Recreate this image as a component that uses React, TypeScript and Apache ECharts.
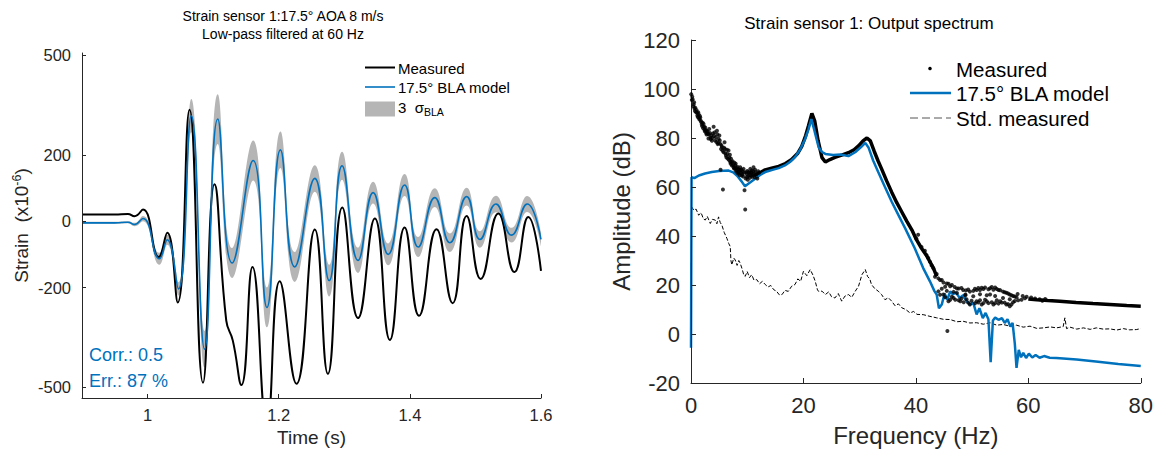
import React, { useEffect, useRef } from 'react';
import * as echarts from 'echarts';

const FONT = '"Liberation Sans", Arial, Helvetica, sans-serif';
const AX = '#262626';
const BLUE = '#0072BD';
const GRAY = '#b5b5b5';

// ---------- Left chart: time response ----------
const timeTicks = [1, 1.2, 1.4, 1.6];
const strainTicks = [-500, -200, 0, 200, 500];

const measuredTime = [0.9, 0.95, 0.97, 0.98, 0.993, 1.017, 1.03, 1.046, 1.064, 1.0845, 1.102, 1.12, 1.13, 1.143, 1.16, 1.182, 1.2015, 1.227, 1.255, 1.275, 1.297, 1.321, 1.3466, 1.3695, 1.392, 1.414, 1.4407, 1.4652, 1.4866, 1.508, 1.535, 1.5595, 1.5806, 1.6];
const measuredStrain = [20, 20, 22, 15, 35, -108, -35, -245, 336, -487, 111, -300, -360, -494, -138, -620, -181, -490, -25, -460, 41, -292, 8, -358, -19, -285, -24, -247, 16, -174, 23, -153, 13, -150];

const blaTime = [0.9, 0.95, 0.97, 0.98, 0.993, 1.018, 1.03, 1.047, 1.0667, 1.087, 1.107, 1.129, 1.161, 1.182, 1.2026, 1.2244, 1.255, 1.277, 1.2966, 1.321, 1.344, 1.367, 1.392, 1.4127, 1.438, 1.461, 1.4866, 1.5069, 1.5313, 1.555, 1.579, 1.6];
const blaStrain = [-5, -5, -3, -10, 8, -113, -56, -204, 318, -386, 308, -126, 183, -260, 215, -138, 129, -179, 167, -118, 86, -100, 109, -78, 71, -65, 74, -55, 52, -42, 52, -55];
const bla3Sigma = [3, 3, 3, 5, 8, 18, 15, 20, 50, 55, 75, 45, 60, 60, 55, 45, 40, 48, 42, 38, 33, 33, 33, 30, 28, 28, 27, 25, 25, 22, 24, 20];

// ---------- Right chart: output spectrum ----------
const measuredDotsLow: [number, number][] = [
  [0.05, 97.9], [0.15, 95.5], [0.22, 96.8], [0.29, 95.8], [0.4, 93.0], [0.47, 93.8], [0.55, 94.6], [0.62, 92.0],
  [0.7, 91.0], [0.76, 92.4], [0.9, 90.5], [0.98, 91.4], [1.06, 90.4], [1.13, 89.2], [1.2, 88.6], [1.28, 90.5],
  [1.36, 89.7], [1.43, 88.1], [1.5, 87.5], [1.58, 89.0], [1.65, 88.4], [1.74, 87.0], [1.83, 86.4], [1.92, 85.5],
  [2.0, 84.8], [2.08, 86.2], [2.17, 84.0], [2.24, 85.7], [2.33, 84.6], [2.4, 83.4], [2.47, 82.7], [2.54, 84.3],
  [2.62, 83.2], [2.7, 82.0], [2.77, 81.4], [2.83, 83.0], [2.92, 82.5], [3.01, 81.6], [3.1, 79.8], [3.17, 81.5],
  [3.25, 83.7], [3.35, 82.0], [3.45, 80.2], [3.52, 79.5], [3.6, 81.0], [3.72, 78.9], [3.8, 80.0], [3.9, 81.8],
  [4.02, 84.6], [4.1, 80.8], [4.2, 82.3], [4.3, 79.0], [4.43, 80.3], [4.52, 78.4], [4.61, 83.0], [4.68, 81.5],
  [4.75, 77.5], [4.84, 78.0], [4.91, 79.6], [5.05, 81.0], [5.12, 79.0], [5.2, 77.6], [5.26, 67.0], [5.35, 75.5],
  [5.42, 77.0], [5.5, 76.3], [5.62, 74.8], [5.68, 59.0], [5.8, 74.2], [5.88, 76.0], [5.97, 78.3], [6.05, 75.5],
  [6.1, 73.8], [6.21, 72.9], [6.3, 72.0], [6.4, 75.2], [6.48, 73.5], [6.56, 71.5], [6.68, 74.9], [6.76, 71.0],
  [6.85, 72.0], [6.92, 73.2], [6.98, 70.2], [7.05, 69.5], [7.12, 71.5], [7.2, 70.2], [7.27, 68.8], [7.4, 70.5],
  [7.48, 69.0], [7.57, 68.1], [7.65, 67.5], [7.72, 69.9], [7.8, 67.6], [7.87, 68.8], [7.95, 69.5], [8.0, 66.5],
  [8.08, 67.8], [8.16, 66.7], [8.23, 65.8], [8.3, 68.2], [8.38, 67.3], [8.46, 65.4], [8.53, 66.0], [8.6, 67.0],
  [8.68, 64.8], [8.75, 68.1], [8.83, 66.8], [8.9, 65.8], [8.98, 67.2], [9.05, 64.7], [9.12, 65.2], [9.2, 66.3],
  [9.28, 64.3], [9.35, 67.4], [9.44, 66.0], [9.52, 58.7], [9.64, 50.8], [9.72, 63.5], [9.8, 66.0], [9.87, 65.3],
  [9.94, 64.0], [10.02, 66.5], [10.1, 63.0], [10.17, 64.5], [10.24, 66.1], [10.32, 65.8], [10.4, 64.9], [10.47, 63.8],
  [10.54, 67.4], [10.62, 65.9], [10.7, 64.7], [10.76, 66.0], [10.83, 66.7], [10.9, 64.2], [11.0, 65.0], [11.05, 66.5],
  [11.12, 68.1], [11.2, 65.4], [11.3, 64.0], [11.4, 67.0], [11.5, 66.0], [11.65, 65.2], [11.8, 63.5], [11.95, 66.4], [12.1, 65.8]
];
const measuredDotsHigh: [number, number][] = [
  [40.1, 38.9], [40.4, 40.5], [41.0, 35.5], [41.6, 34.0], [41.9, 32.2], [42.2, 31.0], [42.5, 29.5], [42.8, 28.0],
  [43.1, 26.8], [43.4, 23.4], [43.7, 24.5], [44.0, 22.7], [44.3, 22.0], [44.6, 22.0], [44.9, 21.0], [45.2, 19.3],
  [45.5, 20.6], [45.8, 20.5], [46.1, 19.5], [46.4, 20.0], [46.9, 19.2], [47.3, 18.6], [47.6, 18.6], [48.1, 18.8],
  [48.4, 18.0], [48.9, 17.8], [49.3, 18.2], [49.6, 17.3], [50.2, 17.6], [50.5, 18.5], [50.8, 18.0], [51.1, 18.8],
  [51.4, 18.0], [51.7, 18.9], [52.0, 18.4], [52.3, 19.0], [52.9, 18.3], [53.2, 18.7], [53.5, 19.2], [53.8, 18.1],
  [54.1, 19.0], [54.4, 18.4], [54.7, 18.0], [55.0, 17.9], [55.5, 17.3], [55.8, 17.0], [56.1, 16.8], [56.4, 16.5],
  [56.7, 16.1], [57.0, 15.8], [57.3, 15.5], [57.6, 15.3], [57.9, 15.0],
  [44.0, 17.4], [44.3, 16.0], [44.9, 16.1], [45.2, 15.0], [45.8, 13.4], [46.1, 14.0], [46.4, 15.2], [46.7, 14.7],
  [47.0, 14.0], [47.6, 13.8], [47.9, 13.4], [48.1, 14.5], [48.5, 13.0], [48.8, 16.1], [49.0, 14.2], [49.3, 12.8],
  [49.6, 12.0], [49.9, 13.6], [50.5, 12.5], [50.8, 13.4], [51.1, 12.9], [51.4, 13.8], [51.7, 12.0], [52.0, 12.6],
  [52.3, 14.0], [52.6, 13.4], [52.9, 12.6], [53.5, 13.0], [53.8, 12.0], [54.1, 12.6], [54.4, 13.8], [54.7, 12.4],
  [55.0, 13.4], [55.3, 12.8], [55.8, 12.8], [56.1, 12.0], [56.4, 12.2], [56.7, 11.3], [57.0, 12.0], [57.3, 13.0],
  [57.6, 13.5], [58.2, 13.8], [58.8, 14.0], [59.4, 14.6], [58.1, 16.3], [59.0, 15.5], [59.7, 15.2], [60.5, 14.9],
  [61.2, 14.5], [62.0, 14.2], [62.5, 13.6], [63.0, 14.3],
  [44.6, 18.5], [45.5, 17.6], [46.7, 17.2], [47.3, 16.7], [48.8, 15.8], [50.2, 15.4], [51.4, 16.2], [52.6, 15.8],
  [53.2, 16.1], [54.1, 15.5], [55.5, 14.7], [56.7, 14.2], [45.6, 1.2]
];
const measuredLineA: [number, number][] = [
  [11.2, 64.5], [12.0, 65.5], [13.2, 67.0], [14.5, 67.8], [15.6, 68.4], [16.8, 69.6], [17.9, 71.2], [19.0, 73.8],
  [19.7, 76.6], [20.4, 81.0], [20.9, 85.0], [21.5, 90.0], [22.0, 87.0], [22.6, 79.0], [23.3, 72.0], [23.9, 70.2],
  [24.7, 71.2], [25.6, 72.1], [26.8, 73.0], [28.0, 74.0], [29.0, 75.2], [29.8, 76.8], [30.6, 78.8], [31.3, 80.0],
  [31.9, 78.8], [32.6, 74.5], [33.3, 70.5], [33.9, 67.4], [34.8, 62.5], [35.7, 57.9], [36.6, 53.6], [37.5, 49.8],
  [38.4, 46.0], [39.3, 42.4], [40.1, 38.5], [41.0, 35.0], [41.9, 32.0], [42.5, 29.5], [43.1, 27.0], [43.7, 23.5]
];
const measuredLineB: [number, number][] = [
  [60.0, 14.3], [61.5, 14.0], [63.5, 13.7], [65.6, 13.4], [68.5, 12.9], [71.5, 12.4],
  [74.5, 12.0], [77.5, 11.6], [80.0, 11.3]
];
const blaModel: [number, number][] = [
  [0, -5.6], [0.1, 64.0], [0.6, 63.6], [1.4, 64.7], [2.5, 65.5], [3.7, 66.1], [5.0, 66.5], [6.7, 66.7], [7.5, 66.0],
  [8.2, 64.6], [9.0, 62.3], [9.6, 60.3], [10.5, 61.8], [11.4, 63.4], [12.3, 64.9], [13.2, 66.1], [14.5, 67.0],
  [15.6, 67.7], [16.7, 68.8], [17.6, 70.2], [18.5, 72.2], [19.4, 75.2], [20.3, 79.6], [20.9, 83.5], [21.4, 87.7],
  [21.9, 83.5], [22.7, 76.2], [23.3, 74.3], [23.9, 73.5], [25.3, 73.1], [26.6, 73.3], [28.0, 72.6], [29.2, 74.2],
  [30.2, 76.2], [31.0, 78.0], [31.6, 76.0], [32.4, 70.8], [33.3, 66.1], [34.5, 60.0], [35.7, 54.0], [36.9, 48.5],
  [38.1, 43.1], [39.8, 35.0], [41.3, 26.9], [42.5, 21.5], [43.3, 17.5], [43.7, 16.1], [44.1, 10.5], [44.6, 12.0],
  [45.1, 16.5], [45.6, 14.0], [46.1, 17.4], [46.6, 16.2], [47.1, 17.0], [47.8, 14.7], [48.4, 15.8], [49.0, 13.5],
  [49.6, 12.0], [50.2, 12.8], [50.8, 8.0], [51.3, 10.5], [51.9, 6.5], [52.4, 8.6], [52.9, 6.0], [53.3, -11.5],
  [53.7, 5.5], [54.1, 6.7], [54.7, 5.8], [55.3, 6.5], [55.8, 4.5], [56.3, 6.0], [56.8, 3.0], [57.2, 4.5], [57.6, -4.0],
  [57.9, -13.8], [58.3, -6.5], [58.7, -9.5], [59.1, -7.7], [59.6, -9.8], [60.1, -8.0], [60.7, -9.6], [61.3, -8.6],
  [62.0, -9.7], [62.8, -9.0], [63.8, -9.7], [65.0, -9.8], [68.6, -10.4], [72.0, -11.2], [76.0, -12.2], [80.0, -13.1]
];
const stdMeasured: [number, number][] = [
  [0.1, 52.0], [0.5, 50.5], [0.9, 51.0], [1.36, 48.5], [1.8, 49.5], [2.2, 47.0], [2.54, 46.5], [2.9, 48.0], [3.43, 45.1],
  [3.8, 46.8], [4.31, 46.5], [4.6, 45.0], [4.9, 47.8], [5.2, 45.5], [5.5, 44.4], [5.9, 41.5], [6.39, 39.0], [6.7, 37.0],
  [6.98, 35.7], [7.1, 30.0], [7.27, 28.2], [7.6, 31.0], [7.87, 30.2], [8.2, 28.0], [8.5, 30.0], [8.75, 28.9], [9.1, 26.5],
  [9.4, 24.0], [9.64, 23.5], [10.0, 25.5], [10.4, 23.0], [10.8, 24.2], [11.2, 22.0], [11.7, 22.2], [12.2, 20.5],
  [12.7, 21.5], [13.2, 20.2], [13.7, 19.2], [14.2, 19.8], [14.7, 18.1], [15.2, 17.5], [15.7, 16.0], [16.2, 16.1],
  [16.7, 17.8], [17.3, 17.4], [17.9, 19.5], [18.5, 20.2], [19.0, 22.5], [19.5, 21.5], [20.0, 25.6], [20.6, 23.8],
  [21.2, 26.3], [21.7, 24.0], [22.1, 21.5], [22.5, 18.0], [22.7, 17.4], [23.3, 17.5], [23.9, 16.1], [24.5, 17.2],
  [25.0, 15.2], [25.6, 14.7], [26.2, 16.5], [26.8, 13.4], [27.4, 15.5], [28.0, 16.1], [28.6, 15.0], [29.2, 17.4],
  [29.8, 19.5], [30.4, 24.2], [31.0, 26.3], [31.4, 23.5], [31.8, 22.5], [32.1, 20.2], [32.7, 18.5], [33.3, 17.5],
  [33.9, 16.1], [34.5, 14.0], [35.1, 14.8], [35.7, 13.4], [36.3, 11.5], [36.9, 12.3], [37.5, 10.7], [38.2, 10.0],
  [38.95, 8.6], [39.6, 9.2], [40.2, 8.0], [41.3, 7.9], [42.5, 7.2], [43.7, 6.6], [44.9, 6.0], [46.1, 5.9], [47.3, 5.0],
  [48.4, 5.2], [49.6, 4.5], [50.8, 4.6], [52.0, 4.0], [53.2, 4.6], [54.4, 3.6], [55.5, 3.9], [56.7, 3.2], [57.9, 3.6],
  [59.1, 2.8], [60.3, 3.2], [61.5, 2.3], [62.7, 2.5], [63.9, 2.9], [65.0, 2.5], [66.2, 3.0], [66.5, 6.6], [66.8, 2.2],
  [67.4, 2.8], [68.6, 2.0], [69.8, 2.5], [71.0, 1.9], [72.1, 2.5], [73.3, 2.0], [74.5, 2.1], [75.7, 1.6], [76.9, 2.2],
  [78.0, 1.7], [79.2, 1.8], [80.0, 2.2]
];

const axisCommon = {
  axisLine: { show: true, onZero: false, lineStyle: { color: AX, width: 1 } },
  axisTick: { show: true, inside: true, length: 4, lineStyle: { color: AX } },
  splitLine: { show: false },
};

export default function App() {
  const ref = useRef<HTMLDivElement>(null);
  useEffect(() => {
    if (!ref.current) return;
    const chart = echarts.init(ref.current, undefined, { renderer: 'svg' });

    const measuredPts = measuredTime.map((t, i) => [t, measuredStrain[i]]);
    const blaPts = blaTime.map((t, i) => [t, blaStrain[i]]);
    const bandUpper = blaTime.map((t, i) => [t, blaStrain[i] + bla3Sigma[i]]);
    const bandLower = blaTime.map((t, i) => [t, blaStrain[i] - bla3Sigma[i]]);

    const option: any = {
      animation: false,
      backgroundColor: '#ffffff',
      textStyle: { fontFamily: FONT },
      grid: [
        { left: 82, top: 53, width: 459, height: 345, containLabel: false },
        { left: 691, top: 40, width: 450.5, height: 345, containLabel: false },
      ],
      xAxis: [
        {
          type: 'value', gridIndex: 0, min: 0.9, max: 1.6, z: 5,
          ...axisCommon,
          axisTick: { ...axisCommon.axisTick, customValues: timeTicks },
          axisLabel: { customValues: timeTicks, formatter: (v: number) => String(v), color: AX, fontSize: 16.5, margin: 8, fontFamily: FONT },
          name: 'Time (s)', nameLocation: 'middle', nameGap: 29,
          nameTextStyle: { color: AX, fontSize: 19, fontFamily: FONT },
        },
        {
          type: 'value', gridIndex: 1, min: 0, max: 80, interval: 20, z: 5,
          ...axisCommon,
          axisTick: { ...axisCommon.axisTick, length: 5 },
          axisLabel: { color: AX, fontSize: 22, margin: 11, fontFamily: FONT },
          name: 'Frequency (Hz)', nameLocation: 'middle', nameGap: 40,
          nameTextStyle: { color: AX, fontSize: 24, fontFamily: FONT },
        },
      ],
      yAxis: [
        {
          type: 'value', gridIndex: 0, min: -533, max: 507, z: 5,
          ...axisCommon,
          axisTick: { ...axisCommon.axisTick, customValues: strainTicks },
          axisLabel: { customValues: strainTicks, formatter: (v: number) => String(v), color: AX, fontSize: 16.5, margin: 11, fontFamily: FONT },
          name: 'Strain  (x10{sup|-6})', nameLocation: 'middle', nameGap: 49,
          nameTextStyle: {
            color: AX, fontSize: 19, fontFamily: FONT,
            rich: { sup: { fontSize: 12.5, color: AX, fontFamily: FONT, padding: [0, 0, 10, 0] } },
          },
        },
        {
          type: 'value', gridIndex: 1, min: -20, max: 120, interval: 20, z: 5,
          ...axisCommon,
          axisTick: { ...axisCommon.axisTick, length: 5 },
          axisLabel: { color: AX, fontSize: 22, margin: 11, fontFamily: FONT },
          name: 'Amplitude (dB)', nameLocation: 'middle', nameGap: 58,
          nameTextStyle: { color: AX, fontSize: 24, fontFamily: FONT },
        },
      ],
      series: [
        {
          name: '3 σBLA upper', type: 'line', xAxisIndex: 0, yAxisIndex: 0, data: bandUpper,
          smooth: 0.5, showSymbol: false, lineStyle: { width: 0, opacity: 0 },
          areaStyle: { color: GRAY, opacity: 1, origin: 'start' }, silent: true, z: 1,
        },
        {
          name: '3 σBLA lower', type: 'line', xAxisIndex: 0, yAxisIndex: 0, data: bandLower,
          smooth: 0.5, showSymbol: false, lineStyle: { width: 0, opacity: 0 },
          areaStyle: { color: '#ffffff', opacity: 1, origin: 'start' }, silent: true, z: 1,
        },
        {
          name: 'Measured', type: 'line', xAxisIndex: 0, yAxisIndex: 0, data: measuredPts,
          smooth: 0.5, showSymbol: false, lineStyle: { color: '#000000', width: 2 }, z: 3,
        },
        {
          name: '17.5° BLA model', type: 'line', xAxisIndex: 0, yAxisIndex: 0, data: blaPts,
          smooth: 0.5, showSymbol: false, lineStyle: { color: BLUE, width: 1.6 }, z: 4,
        },
        {
          name: 'Std. measured', type: 'line', xAxisIndex: 1, yAxisIndex: 1, data: stdMeasured,
          showSymbol: false, lineStyle: { color: '#000000', width: 1, type: [4, 2] }, z: 2,
        },
        {
          name: 'Measured spectrum', type: 'line', xAxisIndex: 1, yAxisIndex: 1, data: measuredLineA,
          showSymbol: false, lineStyle: { color: '#000000', width: 3.5 }, z: 3,
        },
        {
          name: 'Measured spectrum', type: 'line', xAxisIndex: 1, yAxisIndex: 1, data: measuredLineB,
          showSymbol: false, lineStyle: { color: '#000000', width: 3.5 }, z: 3,
        },
        {
          name: '17.5° BLA model spectrum', type: 'line', xAxisIndex: 1, yAxisIndex: 1, data: blaModel,
          showSymbol: false, lineStyle: { color: BLUE, width: 2.5 }, z: 4,
        },
        {
          name: 'Measured spectrum', type: 'scatter', xAxisIndex: 1, yAxisIndex: 1,
          data: [...measuredDotsLow, ...measuredDotsHigh],
          symbol: 'circle', symbolSize: 4, itemStyle: { color: '#000000' }, z: 5,
        },
      ],
      graphic: [
        // titles
        { type: 'text', x: 283, y: 16, z: 10, style: { text: 'Strain sensor 1:17.5° AOA 8 m/s', font: `14px ${FONT}`, fill: '#000', align: 'center', verticalAlign: 'middle' } },
        { type: 'text', x: 283, y: 34, z: 10, style: { text: 'Low-pass filtered at 60 Hz', font: `14px ${FONT}`, fill: '#000', align: 'center', verticalAlign: 'middle' } },
        { type: 'text', x: 869, y: 23, z: 10, style: { text: 'Strain sensor 1: Output spectrum', font: `17px ${FONT}`, fill: '#000', align: 'center', verticalAlign: 'middle' } },
        // left legend
        { type: 'line', z: 10, shape: { x1: 365, y1: 67.5, x2: 395, y2: 67.5 }, style: { stroke: '#000', lineWidth: 2 } },
        { type: 'text', x: 398, y: 68, z: 10, style: { text: 'Measured', font: `15px ${FONT}`, fill: '#000', align: 'left', verticalAlign: 'middle' } },
        { type: 'line', z: 10, shape: { x1: 365, y1: 87, x2: 395, y2: 87 }, style: { stroke: BLUE, lineWidth: 1.6 } },
        { type: 'text', x: 398, y: 87, z: 10, style: { text: '17.5° BLA model', font: `15px ${FONT}`, fill: '#000', align: 'left', verticalAlign: 'middle' } },
        { type: 'rect', z: 10, shape: { x: 365, y: 101.5, width: 30, height: 15 }, style: { fill: GRAY } },
        {
          type: 'text', x: 398, y: 107, z: 10,
          style: {
            text: '3  σ{sub|BLA}', font: `15px ${FONT}`, fill: '#000', align: 'left', verticalAlign: 'middle',
            rich: { sub: { fontSize: 10.5, fontFamily: FONT, fill: '#000', padding: [9, 0, 0, 0] } },
          },
        },
        // corr / err
        { type: 'text', x: 89, y: 355, z: 10, style: { text: 'Corr.: 0.5', font: `18px ${FONT}`, fill: BLUE, align: 'left', verticalAlign: 'middle' } },
        { type: 'text', x: 89, y: 381, z: 10, style: { text: 'Err.: 87 %', font: `18px ${FONT}`, fill: BLUE, align: 'left', verticalAlign: 'middle' } },
        // right legend
        { type: 'circle', z: 10, shape: { cx: 930, cy: 68.5, r: 1.8 }, style: { fill: '#000' } },
        { type: 'text', x: 956, y: 69, z: 10, style: { text: 'Measured', font: `20.5px ${FONT}`, fill: '#000', align: 'left', verticalAlign: 'middle' } },
        { type: 'line', z: 10, shape: { x1: 910, y1: 93, x2: 951, y2: 93 }, style: { stroke: BLUE, lineWidth: 2.5 } },
        { type: 'text', x: 956, y: 93, z: 10, style: { text: '17.5° BLA model', font: `20.5px ${FONT}`, fill: '#000', align: 'left', verticalAlign: 'middle' } },
        { type: 'line', z: 10, shape: { x1: 910, y1: 118, x2: 951, y2: 118 }, style: { stroke: '#555', lineWidth: 1, lineDash: [8, 4] } },
        { type: 'text', x: 956, y: 118, z: 10, style: { text: 'Std. measured', font: `20.5px ${FONT}`, fill: '#000', align: 'left', verticalAlign: 'middle' } },
      ],
    };
    chart.setOption(option);
    return () => chart.dispose();
  }, []);

  return (
    <div
      ref={ref}
      style={{ position: 'absolute', left: 0, top: 0, width: 1156, height: 452, background: '#fff' }}
    />
  );
}
